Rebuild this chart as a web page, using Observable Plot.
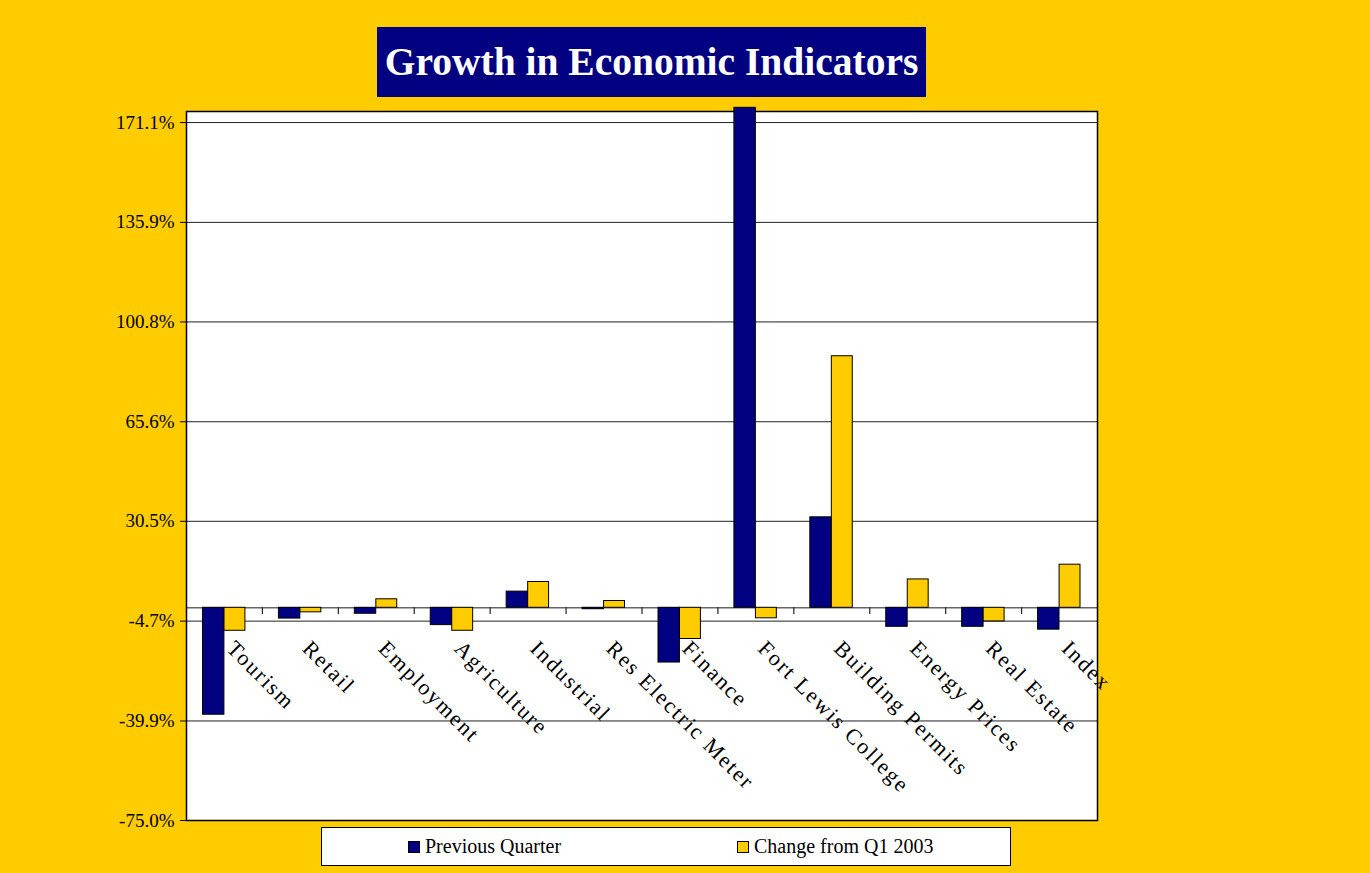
<!DOCTYPE html>
<html>
<head>
<meta charset="utf-8">
<script src="https://cdn.jsdelivr.net/npm/d3@7"></script>
<script src="https://cdn.jsdelivr.net/npm/@observablehq/plot@0.6"></script>
<style>
  html, body { margin: 0; padding: 0; background: #FFCC00; width: 1370px; height: 873px; overflow: hidden; font-family: "Liberation Serif", serif; }
  #chart { position: absolute; left: 0; top: 0; }
  #title { position: absolute; left: 377px; top: 27px; width: 549px; height: 70px; background: #000080; color: #fff; font-weight: bold; font-size: 39.5px; display: flex; align-items: center; justify-content: center; white-space: nowrap; }
  #legend { position: absolute; left: 321px; top: 827px; width: 688px; height: 37px; background: #fff; border: 1px solid #000; }
  #legend .item { position: absolute; top: 8px; font-size: 20px; line-height: 20px; white-space: nowrap; }
  #legend .sw { position: absolute; width: 10px; height: 10px; border: 1px solid #000; top: 13px; }
  g[aria-label="text"] text { letter-spacing: 1.9px; }
</style>
</head>
<body>
<div id="chart"></div>
<div id="title">Growth in Economic Indicators</div>
<div id="legend"></div>
<script>
const categories = ["Tourism", "Retail", "Employment", "Agriculture", "Industrial", "Res Electric Meter", "Finance", "Fort Lewis College", "Building Permits", "Energy Prices", "Real Estate", "Index"];
const prevQuarter = [-37.7, -3.8, -2.1, -6.1, 5.7, -0.5, -19.3, 176.3, 31.9, -6.7, -6.7, -7.7];
const changeQ1 = [-8.1, -1.6, 3.0, -8.1, 9.1, 2.4, -11.0, -3.7, 88.7, 10.0, -4.8, 15.2];
const seriesNames = ["Previous Quarter", "Change from Q1 2003"];
const seriesColors = ["#000080", "#FFCC00"];
const yTicks = [-75.0, -39.9, -4.7, 30.5, 65.6, 100.8, 135.9, 171.1];

const W = 1370, H = 873;
const mL = 186, mR = 273, mT = 111, mB = 53;
const bw = (W - mL - mR) / categories.length;

const rows = categories.map((c, i) => ({category: c, prev: prevQuarter[i], change: changeQ1[i]}));

const chart = Plot.plot({
  width: W,
  height: H,
  marginLeft: mL,
  marginRight: mR,
  marginTop: mT,
  marginBottom: mB,
  style: {background: "transparent", fontFamily: "Liberation Serif", fontSize: "19px", color: "black"},
  x: {domain: categories, padding: 0, round: false, axis: null},
  y: {domain: [-75, 175], ticks: yTicks, tickFormat: d => d.toFixed(1) + "%", tickSize: 6, tickPadding: 6, label: null},
  marks: [
    Plot.frame({fill: "white", stroke: "none"}),
    Plot.ruleY(yTicks, {stroke: "#222", strokeWidth: 1}),
    Plot.ruleY([0], {stroke: "#666", strokeWidth: 1.5}),
    Plot.ruleX(categories.slice(1), {x: d => d, y1: 0, y2: -2.4, dx: -bw / 2, stroke: "#222", strokeWidth: 1.2}),
    Plot.frame({stroke: "black", strokeWidth: 1.5}),
    Plot.barY(rows, {x: "category", y: "prev", fill: seriesColors[0], stroke: "black", strokeWidth: 1, insetLeft: 16.5, insetRight: 38}),
    Plot.barY(rows, {x: "category", y: "change", fill: seriesColors[1], stroke: "black", strokeWidth: 1, insetLeft: 38, insetRight: 17}),
    Plot.text(categories, {x: d => d, y: () => 0, dx: 12, dy: 31, rotate: 45, textAnchor: "start", lineAnchor: "top", fontSize: 22, fill: "black"})
  ]
});
document.getElementById("chart").appendChild(chart);

// Legend
const legend = document.getElementById("legend");
const swLeft = [86, 415];
seriesNames.forEach((name, i) => {
  const sw = document.createElement("div");
  sw.className = "sw";
  sw.style.left = swLeft[i] + "px";
  sw.style.background = seriesColors[i];
  legend.appendChild(sw);
  const t = document.createElement("div");
  t.className = "item";
  t.style.left = (swLeft[i] + 17) + "px";
  t.textContent = name;
  legend.appendChild(t);
});
</script>
</body>
</html>
